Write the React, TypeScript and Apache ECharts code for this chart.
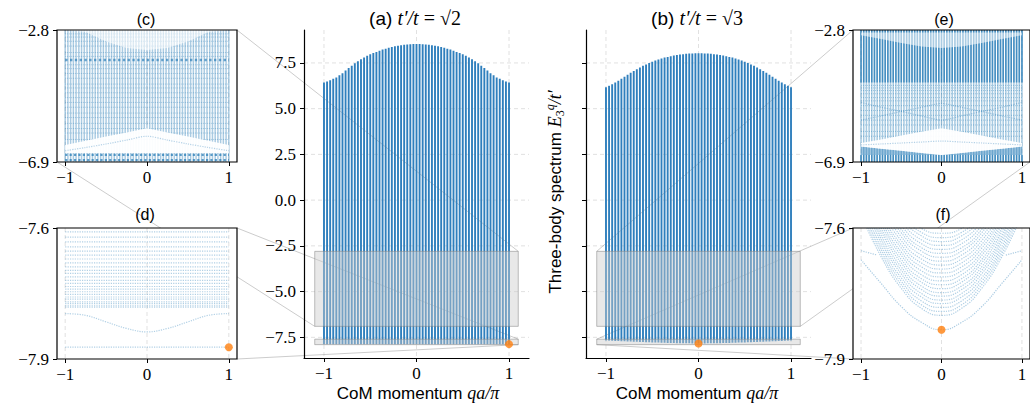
import React, { useEffect, useRef } from "react";
import * as echarts from "echarts";

// ---------------- data ----------------
// centre-of-mass momenta qa/pi of the columns
const Q = [-1, -0.9667, -0.9333, -0.9, -0.8667, -0.8333, -0.8, -0.7667, -0.7333, -0.7, -0.6667, -0.6333, -0.6, -0.5667, -0.5333, -0.5, -0.4667, -0.4333, -0.4, -0.3667, -0.3333, -0.3, -0.2667, -0.2333, -0.2, -0.1667, -0.1333, -0.1, -0.0667, -0.0333, 0, 0.0333, 0.0667, 0.1, 0.1333, 0.1667, 0.2, 0.2333, 0.2667, 0.3, 0.3333, 0.3667, 0.4, 0.4333, 0.4667, 0.5, 0.5333, 0.5667, 0.6, 0.6333, 0.6667, 0.7, 0.7333, 0.7667, 0.8, 0.8333, 0.8667, 0.9, 0.9333, 0.9667, 1];

// (a) t'/t = sqrt2 : highest level of every column, flat ground level
const TOP_A = [6.43, 6.48, 6.55, 6.63, 6.71, 6.82, 6.94, 7.08, 7.22, 7.35, 7.48, 7.59, 7.70, 7.80, 7.89, 7.97, 8.04, 8.10, 8.17, 8.23, 8.28, 8.33, 8.37, 8.41, 8.44, 8.47, 8.49, 8.51, 8.52, 8.53, 8.53, 8.53, 8.52, 8.51, 8.49, 8.47, 8.44, 8.41, 8.37, 8.33, 8.28, 8.23, 8.17, 8.10, 8.04, 7.97, 7.89, 7.80, 7.70, 7.59, 7.48, 7.35, 7.22, 7.08, 6.94, 6.82, 6.71, 6.63, 6.55, 6.48, 6.43];
const GROUND_A = -7.873;

// (b) t'/t = sqrt3 : highest and lowest level of every column
const TOP_B = [6.17, 6.25, 6.33, 6.43, 6.53, 6.63, 6.74, 6.85, 6.96, 7.06, 7.16, 7.25, 7.34, 7.42, 7.50, 7.57, 7.63, 7.69, 7.74, 7.79, 7.83, 7.87, 7.90, 7.93, 7.96, 7.98, 8.00, 8.01, 8.02, 8.03, 8.03, 8.03, 8.02, 8.01, 8.00, 7.98, 7.96, 7.93, 7.90, 7.87, 7.83, 7.79, 7.74, 7.69, 7.63, 7.57, 7.50, 7.42, 7.34, 7.25, 7.16, 7.06, 6.96, 6.85, 6.74, 6.63, 6.53, 6.43, 6.33, 6.25, 6.17];
const LOW_B = [-7.673, -7.680, -7.688, -7.695, -7.702, -7.709, -7.716, -7.723, -7.731, -7.738, -7.745, -7.752, -7.759, -7.766, -7.773, -7.780, -7.783, -7.788, -7.794, -7.799, -7.804, -7.809, -7.814, -7.817, -7.820, -7.824, -7.827, -7.830, -7.832, -7.833, -7.833, -7.833, -7.832, -7.830, -7.827, -7.824, -7.820, -7.817, -7.814, -7.809, -7.804, -7.799, -7.794, -7.788, -7.783, -7.780, -7.773, -7.766, -7.759, -7.752, -7.745, -7.738, -7.731, -7.723, -7.716, -7.709, -7.702, -7.695, -7.688, -7.680, -7.673];

// knot momenta for band edges / single levels read in the zoom panels
const QK = [-1, -0.75, -0.5, -0.25, 0, 0.25, 0.5, 0.75, 1];

// (c) zoom of (a), window -6.9 .. -2.8
const C_DOME_TOP = [-2.8, -2.8, -2.8, -2.8, -2.8, -2.8, -2.8, -2.8, -2.8];
const C_DOME_BOT = [-2.8, -2.86, -3.16, -3.36, -3.42, -3.36, -3.16, -2.86, -2.8];
const C_GAP_TOP = [-6.37, -6.24, -6.11, -5.98, -5.85, -5.98, -6.11, -6.24, -6.37];
const C_GAP_BOT = [-6.62, -6.62, -6.62, -6.62, -6.62, -6.62, -6.62, -6.62, -6.62];
const C_GAP_LEVEL = [-6.55, -6.45, -6.34, -6.22, -6.1, -6.22, -6.34, -6.45, -6.55];
const C_DENSE_LEVELS = [-3.73];
const C_BOTTOM_LEVELS = [-6.68, -6.84];
const C_ROWS = [-2.92, -3.02, -3.15, -3.3, -3.5, -3.62, -3.88, -4.0, -4.15, -4.3, -4.48, -4.6, -4.75, -4.9, -5.05, -5.2, -5.38, -5.52, -5.7, -5.86, -6.0, -6.2];

// (d) zoom of (a), window -7.9 .. -7.6
const D_LEVELS = [-7.609, -7.621, -7.632, -7.643, -7.653, -7.662, -7.671, -7.680, -7.689, -7.697, -7.704, -7.712, -7.720, -7.727, -7.734, -7.740, -7.746, -7.752, -7.758, -7.763, -7.769, -7.773, -7.778, -7.781];
const D_MID = [-7.796, -7.8, -7.815, -7.83, -7.838, -7.83, -7.815, -7.8, -7.796];

// (e) zoom of (b), window -6.9 .. -2.8
const E_DENSE_UPPER = [-4.43, -2.8]; // dense band, lower and upper edge
const E_DENSE_LOWER = [-6.9, -6.68];
const E_LENS_TOP = [-2.88, -2.88, -2.88, -2.88, -2.88, -2.88, -2.88, -2.88, -2.88];
const E_LENS_BOT = [-2.96, -3.08, -3.2, -3.31, -3.36, -3.31, -3.2, -3.08, -2.96];
const E_GAP_TOP = [-6.31, -6.2, -6.08, -5.96, -5.85, -5.96, -6.08, -6.2, -6.31];
const E_GAP_BOT = [-6.42, -6.49, -6.55, -6.62, -6.68, -6.62, -6.55, -6.49, -6.42];
const E_WEDGE_BOT = [-6.68, -6.68, -6.68, -6.68, -6.68, -6.68, -6.68, -6.68, -6.68];
const E_CROSS_1 = [-5.05, -5.2, -5.33, -5.47, -5.6, -5.47, -5.33, -5.2, -5.05];
const E_CROSS_2 = [-5.6, -5.47, -5.33, -5.2, -5.08, -5.2, -5.33, -5.47, -5.6];
const E_GAP_LEVEL = [-6.37, -6.34, -6.31, -6.28, -6.25, -6.28, -6.31, -6.34, -6.37];
const E_ROWS = [-4.52, -4.6, -4.68, -4.78, -4.9, -5.0, -5.15, -5.3, -5.45, -5.6, -5.75, -5.95, -6.1];

// (f) zoom of (b), window -7.9 .. -7.6
const F_CONTINUUM = [
  [-7.57, -7.666, -7.738, -7.784, -7.8, -7.784, -7.738, -7.666, -7.57],
  [-7.56, -7.658, -7.73, -7.776, -7.791, -7.776, -7.73, -7.658, -7.56],
  [-7.55, -7.65, -7.722, -7.767, -7.782, -7.767, -7.722, -7.65, -7.55],
  [-7.54, -7.642, -7.714, -7.758, -7.773, -7.758, -7.714, -7.642, -7.54],
  [-7.53, -7.633, -7.705, -7.75, -7.765, -7.75, -7.705, -7.633, -7.53],
  [-7.52, -7.625, -7.697, -7.741, -7.756, -7.741, -7.697, -7.625, -7.52],
  [-7.51, -7.617, -7.689, -7.733, -7.748, -7.733, -7.689, -7.617, -7.51],
  [-7.505, -7.608, -7.68, -7.724, -7.739, -7.724, -7.68, -7.608, -7.505],
  [-7.5, -7.6, -7.672, -7.716, -7.73, -7.716, -7.672, -7.6, -7.5],
  [-7.49, -7.591, -7.663, -7.707, -7.721, -7.707, -7.663, -7.591, -7.49],
  [-7.48, -7.583, -7.655, -7.698, -7.712, -7.698, -7.655, -7.583, -7.48],
  [-7.47, -7.574, -7.646, -7.689, -7.703, -7.689, -7.646, -7.574, -7.47],
  [-7.46, -7.566, -7.638, -7.68, -7.694, -7.68, -7.638, -7.566, -7.46],
  [-7.45, -7.557, -7.629, -7.671, -7.685, -7.671, -7.629, -7.557, -7.45],
  [-7.44, -7.548, -7.62, -7.662, -7.676, -7.662, -7.62, -7.548, -7.44],
  [-7.43, -7.539, -7.611, -7.653, -7.667, -7.653, -7.611, -7.539, -7.43],
  [-7.42, -7.53, -7.603, -7.645, -7.658, -7.645, -7.603, -7.53, -7.42],
  [-7.41, -7.521, -7.594, -7.636, -7.649, -7.636, -7.594, -7.521, -7.41],
  [-7.4, -7.512, -7.585, -7.627, -7.64, -7.627, -7.585, -7.512, -7.4],
  [-7.39, -7.503, -7.576, -7.618, -7.631, -7.618, -7.576, -7.503, -7.39],
  [-7.38, -7.495, -7.568, -7.61, -7.622, -7.61, -7.568, -7.495, -7.38],
  [-7.37, -7.485, -7.558, -7.601, -7.612, -7.601, -7.558, -7.485, -7.37],
];
const F_BOUND = [-7.673, -7.727, -7.78, -7.816, -7.833, -7.816, -7.78, -7.727, -7.673];
const F_EDGE_L = [[-1, -7.652], [-0.8, -7.662]];
const F_EDGE_R = [[0.8, -7.662], [1, -7.652]];

// ground states marked in orange
const GS_A = [1, -7.873];
const GS_B = [0, -7.833];

// zoom windows [xmin, xmax, ymin, ymax]
const WIN_BIG = [-1.1, 1.1, -6.9, -2.8];
const WIN_LOW = [-1.1, 1.1, -7.9, -7.6];

// tick values
const X_TICKS = [-1, 0, 1];
const Y_TICKS_MAIN = [-7.5, -5, -2.5, 0, 2.5, 5, 7.5];

// ---------------- styles ----------------
const SERIF = '"Liberation Serif", "DejaVu Serif", serif';
const SANS = '"Liberation Sans", Arial, sans-serif';
const ORANGE = "#ff7f0e";

const GRIDS = [
  { left: 304, top: 30, width: 225, height: 328 }, // a
  { left: 586, top: 30, width: 225, height: 328 }, // b
  { left: 57, top: 30, width: 180, height: 132 }, // c
  { left: 57, top: 228, width: 180, height: 131 }, // d
  { left: 853, top: 30, width: 180, height: 132 }, // e
  { left: 853, top: 228, width: 180, height: 131 }, // f
];
const MAIN_X = [-1.216, 1.216];
const MAIN_Y = [-8.63, 9.3];

const fmtY = (v: number) => (v < -1e-9 ? "\u2212" : "") + Math.abs(v).toFixed(1);
const fmtX = (v: number) => (v < -1e-9 ? "\u2212" : "") + Math.abs(Math.round(v));

function xAxisFor(gi: number, min: number, max: number) {
  return {
    type: "value", gridIndex: gi, min, max, z: 10,
    axisLine: { show: gi < 2, onZero: false, lineStyle: { color: "#000", width: 1.2 } },
    axisTick: { show: true, customValues: X_TICKS, length: 4, lineStyle: { color: "#000", width: 1 } },
    axisLabel: { show: true, customValues: X_TICKS, formatter: fmtX, margin: 7, color: "#000", fontFamily: SERIF, fontSize: 17, showMinLabel: true, showMaxLabel: true },
    splitLine: { show: false },
  };
}
function yAxisFor(gi: number, min: number, max: number, ticks: number[], labels: boolean) {
  return {
    type: "value", gridIndex: gi, min, max, z: 10,
    axisLine: { show: gi < 2, onZero: false, lineStyle: { color: "#000", width: 1.2 } },
    axisTick: { show: true, customValues: ticks, length: 4, lineStyle: { color: "#000", width: 1 } },
    axisLabel: { show: labels, customValues: ticks, formatter: fmtY, margin: 8, color: "#000", fontFamily: SERIF, fontSize: 17, showMinLabel: true, showMaxLabel: true },
    splitLine: { show: false },
  };
}

function gridLinesSeries(gi: number, xs: number[], ys: number[], xRef: number, yRef: number, z: number) {
  const data = [...xs.map((v) => [0, v]), ...ys.map((v) => [1, v])];
  return {
    type: "custom", xAxisIndex: gi, yAxisIndex: gi, z, silent: true, clip: true,
    data,
    renderItem: (params: any, api: any) => {
      const cs = params.coordSys;
      const kind = api.value(0);
      const v = api.value(1);
      const style = { stroke: "#d9d9d9", lineWidth: 0.8, lineDash: [4, 3], fill: null };
      if (kind === 0) {
        const p = api.coord([v, yRef])[0];
        return { type: "line", shape: { x1: p, y1: cs.y, x2: p, y2: cs.y + cs.height }, style };
      }
      const p = api.coord([xRef, v])[1];
      return { type: "line", shape: { x1: cs.x, y1: p, x2: cs.x + cs.width, y2: p }, style };
    },
  };
}

function columnsSeries(gi: number, lows: number[], tops: number[], w: number, color: string, z: number) {
  return {
    type: "custom", xAxisIndex: gi, yAxisIndex: gi, z, silent: true, clip: true,
    data: Q.map((q, i) => [q, lows[i], tops[i]]),
    encode: { x: 0, y: [1, 2] },
    renderItem: (params: any, api: any) => {
      const a = api.coord([api.value(0), api.value(2)]);
      const b = api.coord([api.value(0), api.value(1)]);
      return { type: "rect", shape: { x: a[0] - w / 2, y: a[1], width: w, height: b[1] - a[1] }, style: { fill: color } };
    },
  };
}

function regionSeries(gi: number, top: number[], bot: number[], fill: string, z: number) {
  return {
    type: "custom", xAxisIndex: gi, yAxisIndex: gi, z, silent: true, clip: true,
    data: QK.map((q, i) => [q, top[i], bot[i]]),
    renderItem: (params: any, api: any) => {
      if (params.dataIndex !== 0) return null;
      const pts: number[][] = [];
      for (let i = 0; i < QK.length; i++) pts.push(api.coord([QK[i], top[i]]));
      for (let i = QK.length - 1; i >= 0; i--) pts.push(api.coord([QK[i], bot[i]]));
      return { type: "polygon", shape: { points: pts }, style: { fill } };
    },
  };
}

function rectSeries(gi: number, wins: number[][], z: number) {
  return {
    type: "custom", xAxisIndex: gi, yAxisIndex: gi, z, silent: true,
    data: wins,
    renderItem: (params: any, api: any) => {
      const a = api.coord([api.value(0), api.value(3)]);
      const b = api.coord([api.value(1), api.value(2)]);
      return {
        type: "rect",
        shape: { x: a[0], y: a[1], width: b[0] - a[0], height: b[1] - a[1] },
        style: { fill: "rgba(205,205,205,0.45)", stroke: "rgba(128,128,128,0.5)", lineWidth: 1 },
      };
    },
  };
}

function frameSeries(gi: number, z: number) {
  return {
    type: "custom", xAxisIndex: gi, yAxisIndex: gi, z, silent: true,
    data: [[0, 0]],
    renderItem: (params: any) => {
      const cs = params.coordSys;
      return { type: "rect", shape: { x: cs.x, y: cs.y, width: cs.width, height: cs.height }, style: { fill: null, stroke: "#000", lineWidth: 1.2 } };
    },
  };
}

function lineSeries(gi: number, pts: number[][], color: string, width: number, type: string, z: number, smooth: number | boolean = false) {
  return {
    type: "line", xAxisIndex: gi, yAxisIndex: gi, data: pts, showSymbol: false, symbol: "none",
    smooth, lineStyle: { color, width, type }, z, silent: true, clip: true,
  };
}
const flat = (v: number) => [[-1, v], [1, v]];
const knots = (vals: number[]) => QK.map((q, i) => [q, vals[i]]);

function dotSeries(gi: number, p: number[], size: number, z: number) {
  return { type: "scatter", xAxisIndex: gi, yAxisIndex: gi, data: [p], symbolSize: size, itemStyle: { color: ORANGE }, z, silent: true };
}

const CONNECTORS = [
  [0, 2, 1.1, -2.8], [0, 2, -1.1, -6.9],
  [0, 3, 1.1, -7.6], [0, 3, 1.1, -7.9],
  [1, 4, -1.1, -2.8], [1, 4, 1.1, -6.9],
  [1, 5, -1.1, -7.6], [1, 5, -1.1, -7.9],
];

function txt(id: string, x: number, y: number, text: string, rich: any, rotation = 0) {
  return {
    id, type: "text", x, y, rotation, z: 20, silent: true,
    style: { text, rich, align: "center", verticalAlign: "middle", textAlign: "center", textVerticalAlign: "middle", fill: "#000" },
  };
}

export default function App() {
  const ref = useRef<HTMLDivElement>(null);
  useEffect(() => {
    if (!ref.current) return;
    const chart = echarts.init(ref.current, undefined, { renderer: "svg" });

    const light = "rgba(31,119,180,0.32)";
    const series: any[] = [];

    // ---- main (a)
    series.push(gridLinesSeries(0, X_TICKS, Y_TICKS_MAIN, 0, 0, 1));
    series.push(columnsSeries(0, Q.map(() => GROUND_A), TOP_A, 1.9, "#2f7fbd", 2));
    series.push(rectSeries(0, [WIN_BIG, WIN_LOW], 3));
    series.push(dotSeries(0, GS_A, 8, 4));
    // ---- main (b)
    series.push(gridLinesSeries(1, X_TICKS, Y_TICKS_MAIN, 0, 0, 1));
    series.push(columnsSeries(1, LOW_B, TOP_B, 1.9, "#2f7fbd", 2));
    series.push(rectSeries(1, [WIN_BIG, WIN_LOW], 3));
    series.push(dotSeries(1, GS_B, 8, 4));

    // ---- (c)
    series.push(gridLinesSeries(2, X_TICKS, [], 0, -4, 5.5));
    series.push(columnsSeries(2, Q.map(() => GROUND_A), TOP_A, 1.5, "rgba(31,119,180,0.38)", 6));
    C_ROWS.forEach((v) => series.push(lineSeries(2, flat(v), "rgba(31,119,180,0.34)", 1, "dotted", 6.5)));
    series.push(regionSeries(2, C_DOME_TOP, C_DOME_BOT, "rgba(255,255,255,0.6)", 7));
    series.push(regionSeries(2, C_GAP_TOP, C_GAP_BOT, "rgba(255,255,255,0.95)", 7));
    C_DENSE_LEVELS.forEach((v) => series.push(lineSeries(2, flat(v), "rgba(31,119,180,0.65)", 2.4, "dotted", 8)));
    C_BOTTOM_LEVELS.forEach((v) => series.push(lineSeries(2, flat(v), "rgba(31,119,180,0.7)", 2.2, "dotted", 8)));
    series.push(lineSeries(2, knots(C_GAP_LEVEL), light, 1.2, "dotted", 8, 0.3));
    series.push(frameSeries(2, 9.5));

    // ---- (d)
    series.push(gridLinesSeries(3, X_TICKS, [], 0, -7.7, 5.5));
    D_LEVELS.forEach((v) => series.push(lineSeries(3, flat(v), "rgba(31,119,180,0.35)", 1.2, "dotted", 8)));
    series.push(lineSeries(3, knots(D_MID), "rgba(31,119,180,0.35)", 1.2, "dotted", 8, 0.4));
    series.push(lineSeries(3, flat(GROUND_A), "rgba(31,119,180,0.35)", 1.2, "dotted", 8));
    series.push(dotSeries(3, GS_A, 8, 11));
    series.push(frameSeries(3, 9.5));

    // ---- (e)
    series.push(gridLinesSeries(4, X_TICKS, [], 0, -4, 5.5));
    series.push(columnsSeries(4, LOW_B, TOP_B, 1.5, "rgba(31,119,180,0.4)", 6));
    E_ROWS.forEach((v) => series.push(lineSeries(4, flat(v), "rgba(31,119,180,0.34)", 1, "dotted", 6.5)));
    series.push(columnsSeries(4, Q.map(() => E_DENSE_UPPER[0]), Q.map(() => E_DENSE_UPPER[1]), 1.6, "rgba(31,119,180,0.72)", 6.6));
    series.push(columnsSeries(4, Q.map(() => E_DENSE_LOWER[0]), Q.map(() => E_DENSE_LOWER[1]), 1.6, "rgba(31,119,180,0.72)", 6.6));
    series.push(regionSeries(4, E_GAP_BOT, E_WEDGE_BOT, "rgba(31,119,180,0.42)", 6.8));
    series.push(regionSeries(4, E_LENS_TOP, E_LENS_BOT, "rgba(255,255,255,0.55)", 7));
    series.push(regionSeries(4, E_GAP_TOP, E_GAP_BOT, "rgba(255,255,255,0.95)", 7));
    series.push(lineSeries(4, knots(E_CROSS_1), light, 1.2, "dotted", 8, 0.2));
    series.push(lineSeries(4, knots(E_CROSS_2), light, 1.2, "dotted", 8, 0.2));
    series.push(lineSeries(4, knots(E_GAP_LEVEL), light, 1.2, "dotted", 8, 0.3));
    series.push(frameSeries(4, 9.5));

    // ---- (f)
    series.push(gridLinesSeries(5, X_TICKS, [], 0, -7.7, 5.5));
    F_CONTINUUM.forEach((c) => series.push(lineSeries(5, knots(c), "rgba(31,119,180,0.36)", 1.2, "dotted", 8, 0.5)));
    series.push(lineSeries(5, knots(F_BOUND), "rgba(31,119,180,0.38)", 1.2, "dotted", 8, 0.5));
    series.push(lineSeries(5, F_EDGE_L, "rgba(31,119,180,0.38)", 1.2, "dotted", 8));
    series.push(lineSeries(5, F_EDGE_R, "rgba(31,119,180,0.38)", 1.2, "dotted", 8));
    series.push(dotSeries(5, GS_B, 8, 11));
    series.push(frameSeries(5, 9.5));

    const sansR = (s: number) => ({ fontFamily: SANS, fontSize: s, fill: "#000" });
    const serifI = (s: number) => ({ fontFamily: SERIF, fontStyle: "italic", fontSize: s, fill: "#000" });
    const serifR = (s: number) => ({ fontFamily: SERIF, fontSize: s, fill: "#000" });

    const texts = [
      txt("ta", 415, 18, "{s|(a) }{m|t\u2032/t}{o| = \u221A2}", { s: sansR(19), m: serifI(20), o: serifR(20) }),
      txt("tb", 697, 18, "{s|(b) }{m|t\u2032/t}{o| = \u221A3}", { s: sansR(19), m: serifI(20), o: serifR(20) }),
      txt("tc", 146, 19, "{s|(c)}", { s: sansR(16) }),
      txt("te", 944, 19, "{s|(e)}", { s: sansR(16) }),
      txt("td", 145, 214, "{s|(d)}", { s: sansR(16) }),
      txt("tf", 943, 214, "{s|(f)}", { s: sansR(16) }),
      txt("xa", 418, 393, "{s|CoM momentum }{m|qa/\u03C0}", { s: sansR(17), m: serifI(18) }),
      txt("xb", 697, 393, "{s|CoM momentum }{m|qa/\u03C0}", { s: sansR(17), m: serifI(18) }),
      txt("yl", 555, 192, "{s|Three-body spectrum }{m|E}{sub|3}{sup|q}{m|/t\u2032}", {
        s: { ...sansR(17), lineHeight: 22 },
        m: { ...serifI(18), lineHeight: 22 },
        sub: { ...serifR(12), verticalAlign: "bottom", lineHeight: 22 },
        sup: { ...serifI(12), verticalAlign: "top", lineHeight: 22 },
      }, Math.PI / 2),
    ];

    const option: any = {
      animation: false,
      backgroundColor: "#fff",
      grid: GRIDS.map((g, i) => ({
        ...g, containLabel: false,
        show: i >= 2, backgroundColor: "#fff", borderWidth: 0, z: 5,
      })),
      xAxis: [
        xAxisFor(0, MAIN_X[0], MAIN_X[1]),
        xAxisFor(1, MAIN_X[0], MAIN_X[1]),
        xAxisFor(2, WIN_BIG[0], WIN_BIG[1]),
        xAxisFor(3, WIN_LOW[0], WIN_LOW[1]),
        xAxisFor(4, WIN_BIG[0], WIN_BIG[1]),
        xAxisFor(5, WIN_LOW[0], WIN_LOW[1]),
      ],
      yAxis: [
        yAxisFor(0, MAIN_Y[0], MAIN_Y[1], Y_TICKS_MAIN, true),
        yAxisFor(1, MAIN_Y[0], MAIN_Y[1], Y_TICKS_MAIN, false),
        yAxisFor(2, WIN_BIG[2], WIN_BIG[3], [WIN_BIG[2], WIN_BIG[3]], true),
        yAxisFor(3, WIN_LOW[2], WIN_LOW[3], [WIN_LOW[2], WIN_LOW[3]], true),
        yAxisFor(4, WIN_BIG[2], WIN_BIG[3], [WIN_BIG[2], WIN_BIG[3]], true),
        yAxisFor(5, WIN_LOW[2], WIN_LOW[3], [WIN_LOW[2], WIN_LOW[3]], true),
      ],
      series,
      graphic: { elements: texts },
    };
    chart.setOption(option);

    const conns = CONNECTORS.map(([gm, gi, x, y], k) => {
      const a = chart.convertToPixel({ gridIndex: gm } as any, [x, y]) as number[];
      const b = chart.convertToPixel({ gridIndex: gi } as any, [x, y]) as number[];
      return {
        id: "conn" + k, type: "line", z: 1.5, silent: true,
        shape: { x1: a[0], y1: a[1], x2: b[0], y2: b[1] },
        style: { stroke: "rgba(128,128,128,0.4)", lineWidth: 1 },
      };
    });
    chart.setOption({ graphic: { elements: [...texts, ...conns] } });

    return () => chart.dispose();
  }, []);
  return <div ref={ref} style={{ position: "absolute", left: 0, top: 0, width: 1030, height: 412 }} />;
}
